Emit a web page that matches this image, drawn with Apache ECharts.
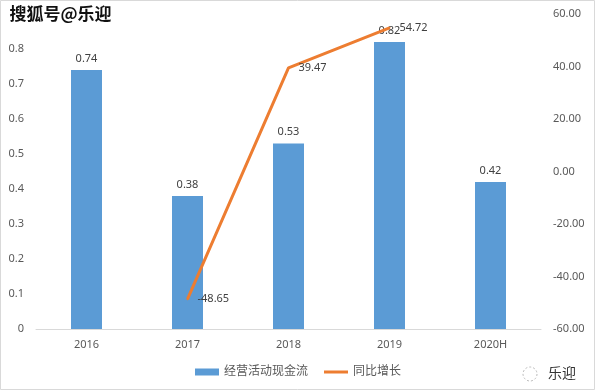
<!DOCTYPE html>
<html>
<head>
<meta charset="utf-8">
<script src="https://cdn.jsdelivr.net/npm/echarts@6/dist/echarts.min.js"></script>
<style>
html,body{margin:0;padding:0;background:#fff;}
#c{width:596px;height:392px;}
</style>
</head>
<body>
<div id="c"></div>
<script>
const categories = ['2016', '2017', '2018', '2019', '2020H'];
const cashFlow = [0.74, 0.38, 0.53, 0.82, 0.42];
const growth = [null, -48.65, 39.47, 54.72, null];
const barName = '经营活动现金流';
const lineName = '同比增长';

const chart = echarts.init(document.getElementById('c'), null, {renderer: 'canvas'});
const font = '"Noto Sans", "Noto Sans CJK SC", sans-serif';
chart.setOption({
  backgroundColor: '#fff',
  animation: false,
  textStyle: {fontFamily: font},
  graphic: [
    {type: 'rect', shape: {x: 0.5, y: 0.5, width: 594, height: 389}, style: {fill: 'none', stroke: '#d9d9d9', lineWidth: 1}, z: -1},
    {type: 'text', left: 8, top: 4, style: {text: '搜狐号@乐迎', fill: '#111', font: 'bold 17px "Noto Sans CJK SC"', stroke: '#fff', lineWidth: 3}, z: 100},
    {type: 'text', left: 548, top: 366, style: {text: '乐迎', fill: '#333', font: '14px "Noto Sans CJK SC"'}, z: 100},
    {type: 'circle', shape: {cx: 530, cy: 374, r: 7}, style: {fill: 'none', stroke: '#bbb', lineWidth: 1, lineDash: [2, 2]}, z: 100}
  ],
  legend: {
    bottom: 9,
    left: 'center',
    itemGap: 16,
    itemWidth: 24,
    itemHeight: 7,
    textStyle: {color: '#595959', fontSize: 12, fontFamily: font},
    data: [
      {name: barName, icon: 'rect'},
      {name: lineName, icon: 'path://M0,0 L24,0 L24,3 L0,3 Z', itemStyle: {color: '#ED7D31', opacity: 1}}
    ]
  },
  grid: {left: 36, right: 55, top: 14, bottom: 63, containLabel: false},
  xAxis: {
    type: 'category',
    data: categories,
    axisLine: {show: true, lineStyle: {color: '#d9d9d9'}},
    axisTick: {show: false},
    axisLabel: {color: '#595959', fontSize: 11, margin: 10}
  },
  yAxis: [
    {
      type: 'value', min: 0, max: 0.9, interval: 0.1,
      splitLine: {show: false},
      axisLine: {show: false}, axisTick: {show: false},
      axisLabel: {
        color: '#595959', fontSize: 11, margin: 12,
        formatter: v => (Math.abs(v - 0.9) < 1e-6 ? '' : (v === 0 ? '0' : v.toFixed(1)))
      }
    },
    {
      type: 'value', min: -60, max: 60, interval: 20,
      splitLine: {show: false},
      axisLine: {show: false}, axisTick: {show: false},
      axisLabel: {color: '#595959', fontSize: 11, margin: 12, formatter: v => v.toFixed(2)}
    }
  ],
  series: [
    {
      name: barName, type: 'bar', data: cashFlow, barWidth: 31,
      itemStyle: {color: '#5B9BD5'},
      label: {show: true, position: 'top', color: '#404040', fontSize: 11, distance: 6}
    },
    {
      name: lineName, type: 'line', yAxisIndex: 1, data: growth,
      symbol: 'circle', symbolSize: 2, showSymbol: true, connectNulls: false,
      lineStyle: {color: '#ED7D31', width: 3},
      itemStyle: {color: '#ED7D31'},
      labelLayout: {hideOverlap: false},
      label: {show: true, position: 'right', color: '#404040', fontSize: 11, distance: 9,
        formatter: p => Number(Array.isArray(p.value) ? p.value[1] : p.value).toFixed(2)},
      z: 3
    }
  ]
});
</script>
</body>
</html>
